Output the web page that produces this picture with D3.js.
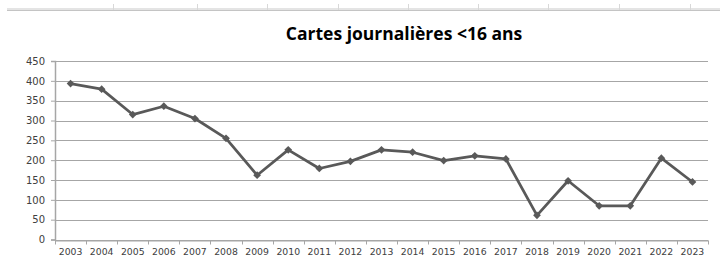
<!DOCTYPE html>
<html>

<head>
<meta charset="utf-8">
<script src="https://d3js.org/d3.v7.min.js"></script>
<style>
  body { margin: 0; background: #fff; }
  text { font-family: "DejaVu Sans", sans-serif; }
</style>
</head>

<body>
  <script>
    var years = ["2003", "2004", "2005", "2006", "2007", "2008", "2009", "2010", "2011", "2012",
      "2013", "2014", "2015", "2016", "2017", "2018", "2019", "2020", "2021", "2022", "2023"];
    var cartes = [393, 379, 315, 336, 305, 255, 162, 226, 179, 197,
      226, 220, 199, 211, 203, 61, 148, 85, 85, 205, 145];
    var yTicks = [0, 50, 100, 150, 200, 250, 300, 350, 400, 450];
    var title = "Cartes journalières <16 ans";

    var width = 720,
      height = 268;

    var margin = { top: 61, right: 12, bottom: 28.5, left: 55 };

    var svg = d3.select("body").append("svg")
      .attr("width", width)
      .attr("height", height);

    // spreadsheet strip at the top
    svg.append("rect")
      .attr("x", 7).attr("y", 8)
      .attr("width", width - 7).attr("height", 2)
      .attr("fill", "#e4e4e4");
    svg.append("line")
      .attr("x1", 7).attr("x2", width)
      .attr("y1", 10.5).attr("y2", 10.5)
      .attr("stroke", "#c4c4c4");
    var cols = [113, 197, 267, 338, 408, 478, 548, 619, 690];
    svg.selectAll("line.col").data(cols).enter().append("line")
      .attr("class", "col")
      .attr("x1", function(d) { return d + 0.5; })
      .attr("x2", function(d) { return d + 0.5; })
      .attr("y1", 4).attr("y2", 10)
      .attr("stroke", "#d8d8d8");

    var x = d3.scaleBand()
      .domain(years)
      .range([margin.left, width - margin.right]);

    var y = d3.scaleLinear()
      .domain([0, 450])
      .range([height - margin.bottom, margin.top]);

    // gridlines
    svg.append("g")
      .selectAll("line")
      .data(yTicks)
      .enter().append("line")
      .attr("x1", margin.left)
      .attr("x2", width - margin.right)
      .attr("y1", function(d) { return Math.round(y(d)) + 0.5; })
      .attr("y2", function(d) { return Math.round(y(d)) + 0.5; })
      .attr("stroke", "#a6a6a6")
      .attr("stroke-width", 1);

    // y axis
    var yAxis = svg.append("g")
      .attr("transform", "translate(" + margin.left + ",0)")
      .call(d3.axisLeft(y).tickValues(yTicks).tickSize(4).tickPadding(6));
    yAxis.select(".domain").attr("stroke", "#a6a6a6").attr("stroke-width", 1.5);
    yAxis.selectAll(".tick line").attr("stroke", "#a6a6a6");
    yAxis.selectAll("text")
      .attr("fill", "#404040")
      .style("font-size", "10px");

    // x axis
    var xAxis = svg.append("g")
      .attr("transform", "translate(0," + (Math.round(y(0)) + 0.5) + ")")
      .call(d3.axisBottom(x).tickSize(0).tickPadding(8));
    xAxis.select(".domain").attr("stroke", "#a6a6a6");
    xAxis.selectAll("text")
      .attr("fill", "#404040")
      .style("font-size", "9.3px");
    var bounds = years.map(function(d) { return x(d); }).concat([x.range()[1]]);
    xAxis.selectAll("line.sep").data(bounds).enter().append("line")
      .attr("class", "sep")
      .attr("x1", function(d) { return Math.round(d) + 0.5; })
      .attr("x2", function(d) { return Math.round(d) + 0.5; })
      .attr("y1", 0).attr("y2", 4)
      .attr("stroke", "#a6a6a6");

    // line
    var line = d3.line()
      .x(function(d, i) { return x(years[i]) + x.bandwidth() / 2; })
      .y(function(d) { return y(d); });

    svg.append("path")
      .datum(cartes)
      .attr("d", line)
      .attr("fill", "none")
      .attr("stroke", "#595959")
      .attr("stroke-width", 2.75)
      .attr("stroke-linejoin", "round");

    // diamonds = squares turned 45 degrees
    var marker = d3.symbol().type(d3.symbolSquare).size(30);
    svg.selectAll("path.pt")
      .data(cartes)
      .enter().append("path")
      .attr("class", "pt")
      .attr("d", marker)
      .attr("fill", "#595959")
      .attr("transform", function(d, i) {
        return "translate(" + (x(years[i]) + x.bandwidth() / 2) + "," + y(d) + ") rotate(45)";
      });

    // title
    svg.append("text")
      .attr("x", 404)
      .attr("y", 39.5)
      .attr("text-anchor", "middle")
      .attr("fill", "#000")
      .style("font-family", "'Open Sans', sans-serif")
      .style("font-weight", "bold")
      .style("font-size", "17.5px")
      .text(title);
  </script>
</body>

</html>
